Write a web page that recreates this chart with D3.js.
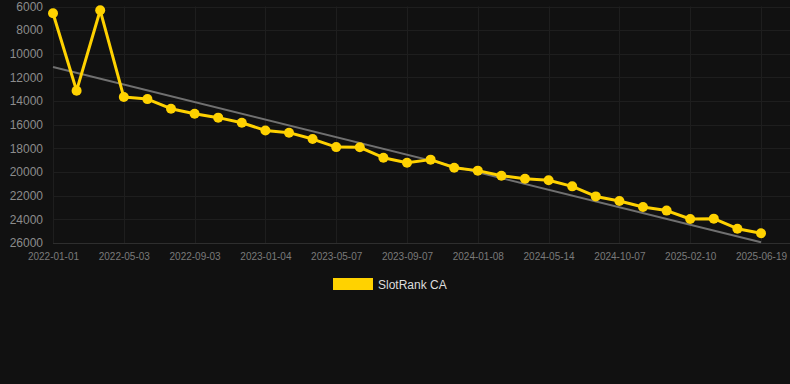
<!DOCTYPE html>
<html>
<head>
<meta charset="utf-8">
<script src="https://cdn.jsdelivr.net/npm/d3@7"></script>
<style>
  html, body { margin: 0; padding: 0; background: #111111; }
  svg { display: block; font-family: "Liberation Sans", Arial, sans-serif; }
</style>
</head>
<body>
<svg id="chart" width="790" height="384"></svg>
<script>
const dates = [
  "2022-01-01","2022-02-01","2022-03-04","2022-05-03","2022-06-04","2022-07-05",
  "2022-09-03","2022-10-04","2022-11-04","2023-01-04","2023-02-05","2023-03-08",
  "2023-05-07","2023-06-07","2023-07-08","2023-09-07","2023-10-08","2023-11-08",
  "2024-01-08","2024-02-09","2024-03-12","2024-05-14","2024-06-15","2024-08-07",
  "2024-10-07","2024-11-08","2024-12-10","2025-02-10","2025-03-14","2025-04-16",
  "2025-06-19"
];
const rankCA = [
  6570, 13120, 6320, 13660, 13830, 14640, 15070, 15400, 15830, 16480, 16670,
  17210, 17890, 17910, 18790, 19210, 18950, 19630, 19880, 20310, 20560, 20700,
  21210, 22060, 22450, 22960, 23260, 23970, 23940, 24790, 25180
];
// trend line end values (first and last date)
const trendValues = [11120, 25940];
const xTickLabels = [
  "2022-01-01","2022-05-03","2022-09-03","2023-01-04","2023-05-07","2023-09-07",
  "2024-01-08","2024-05-14","2024-10-07","2025-02-10","2025-06-19"
];
const yTicks = [6000, 8000, 10000, 12000, 14000, 16000, 18000, 20000, 22000, 24000, 26000];
const seriesName = "SlotRank CA";

(function () {
const svg = d3.select("#chart");
const W = 790;
const pLeft = 53, pRight = 761, pTop = 6.5, pBottom = 243;

const x = d3.scalePoint().domain(dates).range([pLeft, pRight]);
const y = d3.scaleLinear().domain([6000, 26000]).range([pTop, pBottom]);

// grid
const g = svg.append("g");
g.selectAll("line.h").data(yTicks).enter().append("line")
  .attr("x1", pLeft).attr("x2", W)
  .attr("y1", d => Math.round(y(d)) + 0.5).attr("y2", d => Math.round(y(d)) + 0.5)
  .attr("stroke", d => d === 26000 ? "#2e2e2e" : "#1e1e1e").attr("stroke-width", 1);
g.selectAll("line.v").data(xTickLabels).enter().append("line")
  .attr("x1", d => Math.round(x(d)) + 0.5).attr("x2", d => Math.round(x(d)) + 0.5)
  .attr("y1", pTop).attr("y2", pBottom)
  .attr("stroke", "#1e1e1e").attr("stroke-width", 1);

// y axis labels
const yAxis = d3.axisLeft(y).tickValues(yTicks).tickSize(0).tickPadding(0).tickFormat(d3.format("d"));
const ya = svg.append("g").attr("transform", `translate(43,0)`).call(yAxis);
ya.select(".domain").remove();
ya.selectAll("text").attr("fill", "#8c8c8c").attr("font-size", "12px")
  .attr("font-family", "Liberation Sans, Arial, sans-serif");

// x axis labels
const xAxis = d3.axisBottom(x).tickValues(xTickLabels).tickSize(0).tickPadding(0);
const xa = svg.append("g").attr("transform", `translate(0,${pBottom + 10})`).call(xAxis);
xa.select(".domain").remove();
xa.selectAll("text").attr("fill", "#7a7a7a").attr("font-size", "10px")
  .attr("font-family", "Liberation Sans, Arial, sans-serif");

// trend line
svg.append("line")
  .attr("x1", x(dates[0])).attr("y1", y(trendValues[0]))
  .attr("x2", x(dates[dates.length - 1])).attr("y2", y(trendValues[1]))
  .attr("stroke", "#707070").attr("stroke-width", 2);

// series line
const line = d3.line().x((d, i) => x(dates[i])).y(d => y(d));
svg.append("path").datum(rankCA)
  .attr("d", line).attr("fill", "none")
  .attr("stroke", "#ffd200").attr("stroke-width", 3).attr("stroke-linejoin", "round");

svg.selectAll("circle.pt").data(rankCA).enter().append("circle")
  .attr("cx", (d, i) => x(dates[i])).attr("cy", d => y(d)).attr("r", 5)
  .attr("fill", "#ffd200");

// legend
const lg = svg.append("g");
lg.append("rect").attr("x", 333).attr("y", 278).attr("width", 40).attr("height", 12).attr("fill", "#ffd200");
lg.append("text").attr("x", 378).attr("y", 288.5).attr("fill", "#dddddd")
  .attr("font-size", "12px").text(seriesName);
})();
</script>
</body>
</html>
